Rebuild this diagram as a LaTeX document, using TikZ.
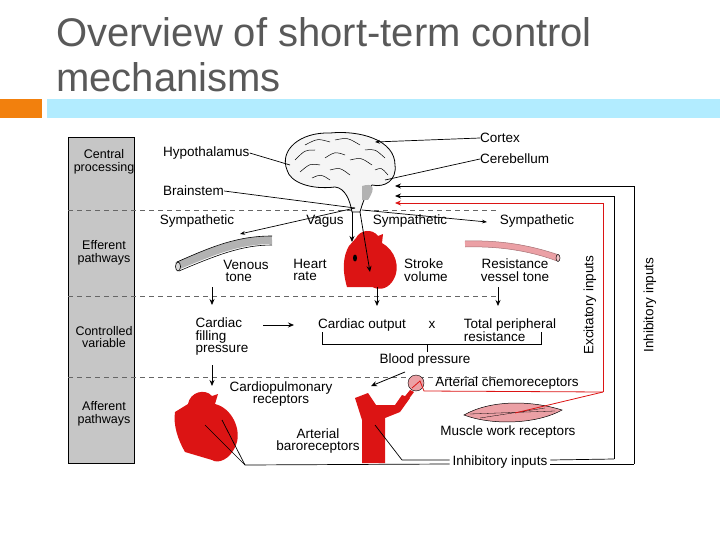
\documentclass[tikz,border=0pt]{standalone}
\usepackage{fontspec}
\setmainfont{Liberation Sans}
\usetikzlibrary{arrows.meta,calc}
\definecolor{hred}{RGB}{220,20,20}
\definecolor{pinkm}{RGB}{235,160,165}
\definecolor{titlegray}{RGB}{89,89,89}
\begin{document}
\begin{tikzpicture}[x=1pt,y=-1pt,
  lbl/.style={font=\fontsize{13.5}{12.5}\selectfont,align=left,inner sep=0pt},
  col/.style={font=\fontsize{12.5}{12.5}\selectfont,align=center,inner sep=0pt},
  ar/.style={-{Stealth[length=6pt,width=5pt]},line width=0.8pt},
  ln/.style={line width=0.7pt},
  dsh/.style={dashed,dash pattern=on 5pt off 4pt,line width=0.7pt,gray!80!black}]
\useasboundingbox (0,0) rectangle (720,540);
% title
\node[anchor=north west,align=left,text=titlegray,font=\fontsize{40}{45}\selectfont,inner sep=0pt] (title) at (56,17) {Overview of short-term control\\mechanisms};
\fill[orange!80!brown] (0,99) rectangle (42,118);
\fill[blue!25!cyan!30!white] (47,99) rectangle (720,118);
% left column
\draw[fill=gray!45,line width=0.8pt] (68,137) rectangle (134,463);
\node[col] (c1) at (104,162) {Central\\processing};
\node[col] (c2) at (104,253) {Efferent\\pathways};
\node[col] (c3) at (104,337) {Controlled\\variable};
\node[col] (c4) at (104,414) {Afferent\\pathways};
\foreach \y in {210,296,377} \draw[dsh] (68,\y) -- (498,\y);
% brain
\draw[fill=gray!8,line width=0.8pt] (287,170) .. controls (279,150) and (300,132) .. (330,133)
  .. controls (360,130) and (395,140) .. (395,165) .. controls (397,180) and (385,188) .. (372,185)
  .. controls (365,195) and (362,205) .. (360,212) -- (352,212) .. controls (350,200) and (345,188) .. (335,187)
  .. controls (310,190) and (290,182) .. (287,170) -- cycle;
\foreach \a/\b/\c/\d in {295/160/315/150,305/145/330/142,335/140/360/145,365/150/385/158,300/172/320/165,325/158/345/155,350/160/372/165,330/170/350/175,375/170/388/175,312/178/330/180}
  \draw[line width=0.5pt] (\a,\b) .. controls ($(\a,\b)!0.5!(\c,\d)+(0,-5)$) .. (\c,\d);
\fill[gray!60] (362,186) .. controls (372,183) and (377,186) .. (368,200) -- (362,200) -- cycle;
\coordinate (bs) at (355,208);
% labels central
\node[lbl,anchor=west] (hyp) at (163,153) {Hypothalamus};
\draw[ln] (hyp.east) -- (290,165);
\node[lbl,anchor=west] (ctx) at (480,138) {Cortex};
\draw[ln,-{Stealth[length=5pt]}] (ctx.west) -- (375,142);
\node[lbl,anchor=west] (cer) at (480,159) {Cerebellum};
\draw[ln] (cer.west) -- (385,180);
\node[lbl,anchor=west] (brs) at (163,191) {Brainstem};
\draw[ln] (brs.east) -- (bs);
% feedback lines
\coordinate (o1) at (634,186); \coordinate (o2) at (634,464);
\coordinate (i1) at (614,196); \coordinate (i2) at (614,459);
\coordinate (r1) at (603,203); \coordinate (r2) at (603,392);
\draw[ar] (o2) -- (o1) -- (395,186);
\draw[ar] (i2) -- (i1) -- (395,196);
\draw[ar,hred] (r2) -- (r1) -- (395,203);
\node[lbl,rotate=90] (exc) at (590,305) {Excitatory inputs};
\node[lbl,rotate=90] (inh) at (650,305) {Inhibitory inputs};
% efferent
\node[lbl] (sy1) at (197,221) {Sympathetic};
\node[lbl] (vag) at (325,221) {Vagus};
\node[lbl] (sy2) at (410,221) {Sympathetic};
\node[lbl] (sy3) at (537,221) {Sympathetic};
\draw[ln,-{Stealth[length=5pt]}] (bs) -- (240,234);
\draw[ln,-{Stealth[length=5pt]}] (362,210) -- (487,222);
% vein
\draw[line width=8pt,gray!60] (177,266) .. controls (215,250) and (240,240) .. (272,240);
\draw[line width=0.6pt] (177,262) .. controls (213,246) and (238,236) .. (272,236);
\draw[line width=0.6pt] (179,271) .. controls (217,255) and (242,245) .. (272,245);
\draw[fill=gray!30,line width=0.6pt] (178,266.5) ellipse (2.5pt and 4.5pt);
% resistance vessel
\draw[line width=6pt,pinkm] (465,244) .. controls (500,243) and (530,248) .. (558,258);
\draw[line width=0.5pt,pinkm!70!black] (465,241) .. controls (500,240) and (530,245) .. (559,255);
\draw[line width=0.5pt,pinkm!70!black] (465,247) .. controls (500,246) and (530,251) .. (557,261);
\draw[fill=pinkm!60,line width=0.5pt] (558,258) ellipse (2pt and 3.5pt);
% heart centre
\fill[hred] (349,246) -- (356,238) .. controls (360,230) and (372,228) .. (378,236) -- (383,234) -- (382,243)
  .. controls (395,250) and (402,268) .. (392,282) .. controls (386,290) and (378,290) .. (372,287)
  -- (347,287) .. controls (342,270) and (343,256) .. (349,246) -- cycle;
\draw[ar] (352,212) -- (352,242);
\draw[ar] (360,212) -- (370,272);
\fill (355,258) ellipse (2pt and 3.5pt);
\node[lbl] (vt) at (246,271) {Venous\\ \,tone};
\node[lbl] (hr) at (310,270) {Heart\\rate};
\node[lbl] (sv) at (426,270) {Stroke\\volume};
\node[lbl,align=center] (rvt) at (515,270) {Resistance\\vessel tone};
% arrows down
\draw[ar] (212,287) -- (212,305);
\draw[ar] (377,287) -- (377,306);
\draw[ar] (498,287) -- (498,306);
% controlled variables
\node[lbl] (cfp) at (222,337) {Cardiac\\filling\\pressure};
\draw[ar] (263,325) -- (294,325);
\node[lbl] (co) at (362,325) {Cardiac output};
\node[lbl] (x) at (432,325) {x};
\node[lbl] (tpr) at (510,330) {Total peripheral\\resistance};
\draw[ln] (322,332) -- (322,344) -- (541,344) -- (541,332);
\draw[ln] (427,344) -- (427,352);
\node[lbl] (bp) at (425,360) {Blood pressure};
\draw[ar] (212,365) -- (212,386);
\draw[ar] (405,372) -- (371,386);
% afferent
\node[lbl,align=center] (cpr) at (281,394) {Cardiopulmonary\\receptors};
\node[lbl,align=center] (abr) at (318,441) {Arterial\\baroreceptors};
\node[lbl] (ach) at (507,383) {Arterial chemoreceptors};
\node[lbl] (mwr) at (508,432) {Muscle work receptors};
% lower heart
\fill[hred] (175,412) -- (188,404) .. controls (190,392) and (205,388) .. (212,396) -- (218,394) -- (215,404)
  .. controls (232,408) and (242,430) .. (236,445) .. controls (230,460) and (218,464) .. (212,460)
  -- (185,452) .. controls (178,440) and (173,425) .. (175,412) -- cycle;
% aorta / carotid
\fill[hred] (355,398) -- (368,393) -- (376,405) -- (395,405) -- (402,395) -- (410,398) -- (400,412)
  -- (385,418) -- (385,463) -- (362,463) -- (362,420) -- cycle;
\draw[fill=pinkm,line width=0.4pt] (416,383) circle (8pt);
\fill[hred] (398,405) -- (410,390) -- (414,392) -- (402,408) -- cycle;
% muscle
\draw[fill=pinkm,line width=0.5pt] (464,415) .. controls (490,400) and (530,400) .. (562,410) .. controls (535,425) and (490,425) .. (464,415) -- cycle;
\draw[line width=0.3pt] (470,414) -- (555,411) (480,418) -- (545,408);
% red afferent lines
\draw[hred,line width=0.8pt] (412,388) -- (420,381) -- (424,391) -- (r2);
\draw[hred,line width=0.8pt] (515,413) -- (r2);
% inhibitory inputs
\node[lbl] (ii) at (500,462) {Inhibitory inputs};
\draw[ln] (ii.east) ++(3,-2) -- (i2);
\draw[ln] (ii.east) ++(3,2) -- (o2);
\draw[ln] (ii.west) ++(-3,2) -- (245,465) -- (205,425);
\draw[ln] (245,465) -- (222,420);
\draw[ln] (ii.west) ++(-3,-2) -- (402,460) -- (375,425);
\end{tikzpicture}
\end{document}
